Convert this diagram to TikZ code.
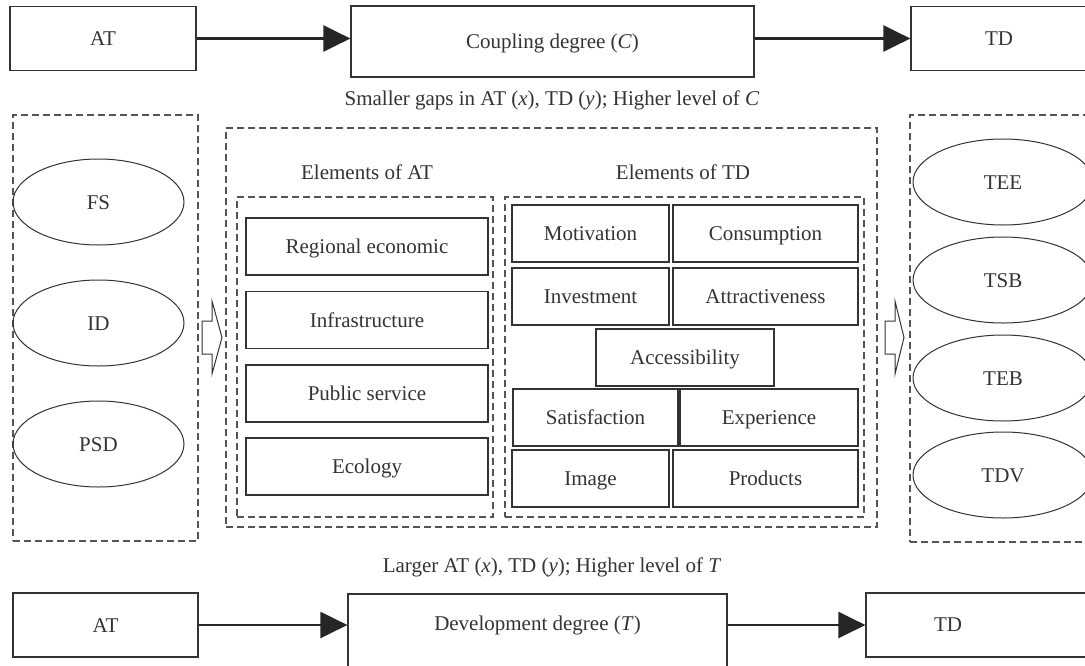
\documentclass[tikz,border=0pt]{standalone}
\usepackage{fontspec}
\setmainfont{Liberation Serif}
\usetikzlibrary{arrows.meta,shapes.geometric}
\definecolor{linegray}{gray}{0.2}
\definecolor{dashgray}{gray}{0.33}
\begin{document}
\begin{tikzpicture}[x=1pt,y=-1pt,
		every node/.style={font=\fontsize{21}{25}\selectfont, text=linegray},
		box/.style={draw=linegray, line width=1.2pt, inner sep=0pt, text height=16pt, text depth=2pt},
		oval/.style={ellipse, draw=linegray, line width=1pt, inner sep=0pt, minimum height=86pt, text height=16pt, text depth=2pt},
		dashbox/.style={draw=dashgray, line width=1.3pt, dash pattern=on 7pt off 4pt, inner sep=0pt},
		bigarrow/.style={line width=2.3pt, draw=black!85, -{Triangle[length=27pt,width=26pt]}},
		openarrow/.style={draw=linegray, line width=1pt, fill=white}
	]
	\clip (0,0) rectangle (1085,665);

	% top row
	\node[box, minimum width=186pt, minimum height=64pt] (at1) at (103,38.5) {AT};
	\node[box, minimum width=403pt, minimum height=71pt] (cd) at (552.5,41.5) {Coupling degree (\textit{C})};
	\node[box, minimum width=176pt, minimum height=64pt] (td1) at (999,38.5) {TD};
	\draw[bigarrow] (at1.east) -- (at1.east -| cd.west);
	\draw[bigarrow] (cd.east |- at1.east) -- (td1.west);
	\node (capc) at (552,100) {Smaller gaps in AT (\textit{x}), TD (\textit{y}); Higher level of \textit{C}};

	% left column
	\node[dashbox, minimum width=185pt, minimum height=426pt] (lbox) at (105.5,328) {};
	\node[oval, minimum width=171pt] (fs) at (98.5,202) {FS};
	\node[oval, minimum width=171pt] (id) at (98.5,323) {ID};
	\node[oval, minimum width=171pt] (psd) at (98.5,444) {PSD};
	\draw[openarrow] (202,321) -- (212,321) -- (212,301) -- (222,337.5) -- (212,374) -- (212,354) -- (202,354) -- cycle;

	% middle block
	\node[dashbox, minimum width=651pt, minimum height=399pt] (mbox) at (551.5,327.5) {};
	\node[dashbox, minimum width=256pt, minimum height=320pt] (atbox) at (365,357) {};
	\node[dashbox, minimum width=359pt, minimum height=320pt] (tdbox) at (684.5,357) {};
	\node (atlab) at (367,172) {Elements of AT};
	\node (tdlab) at (683,172) {Elements of TD};

	\foreach \name/\txt/\y in {reg/Regional economic/246.5, inf/Infrastructure/320, pub/Public service/393.5, eco/Ecology/466.5}
		\node[box, minimum width=242pt, minimum height=57pt] (\name) at (367,\y) {\txt};

	\node[box, minimum width=157pt, minimum height=57pt] (mot) at (590.5,233.5) {Motivation};
	\node[box, minimum width=185pt, minimum height=57pt] (con) at (765.5,233.5) {Consumption};
	\node[box, minimum width=157pt, minimum height=57pt] (inv) at (590.5,296.5) {Investment};
	\node[box, minimum width=185pt, minimum height=57pt] (att) at (765.5,296.5) {Attractiveness};
	\node[box, minimum width=178pt, minimum height=57pt] (acc) at (685,357.5) {Accessibility};
	\node[box, minimum width=165pt, minimum height=57pt] (sat) at (595.5,417.5) {Satisfaction};
	\node[box, minimum width=178pt, minimum height=57pt] (exp) at (769,417.5) {Experience};
	\node[box, minimum width=157pt, minimum height=57pt] (img) at (590.5,478.5) {Image};
	\node[box, minimum width=185pt, minimum height=57pt] (prd) at (765.5,478.5) {Products};

	% right column
	\draw[openarrow] (885,321) -- (895,321) -- (895,301) -- (904,337.5) -- (895,374) -- (895,354) -- (885,354) -- cycle;
	\node[dashbox, minimum width=190pt, minimum height=427pt] (rbox) at (1005,328.5) {};
	\node[oval, minimum width=180pt] (tee) at (1003,182) {TEE};
	\node[oval, minimum width=180pt] (tsb) at (1003,280) {TSB};
	\node[oval, minimum width=180pt] (teb) at (1003,378) {TEB};
	\node[oval, minimum width=180pt] (tdv) at (1003,475) {TDV};

	% bottom row
	\node (capt) at (552,567) {Larger AT (\textit{x}), TD (\textit{y}); Higher level of \textit{T}};
	\node[box, minimum width=185pt, minimum height=64pt] (at2) at (105.5,625) {AT};
	\node[box, minimum width=379pt, minimum height=86pt, label={[name=ddtext, yshift=12pt]center:Development degree (\textit{T})}] (dd) at (537.5,637) {};
	\node[box, minimum width=230pt, minimum height=64pt, label={[name=tdtext, xshift=-33pt]center:TD}] (td2) at (981,625) {};
	\draw[bigarrow] (at2.east) -- (at2.east -| dd.west);
	\draw[bigarrow] (dd.east |- at2.east) -- (td2.west);
\end{tikzpicture}
\end{document}
